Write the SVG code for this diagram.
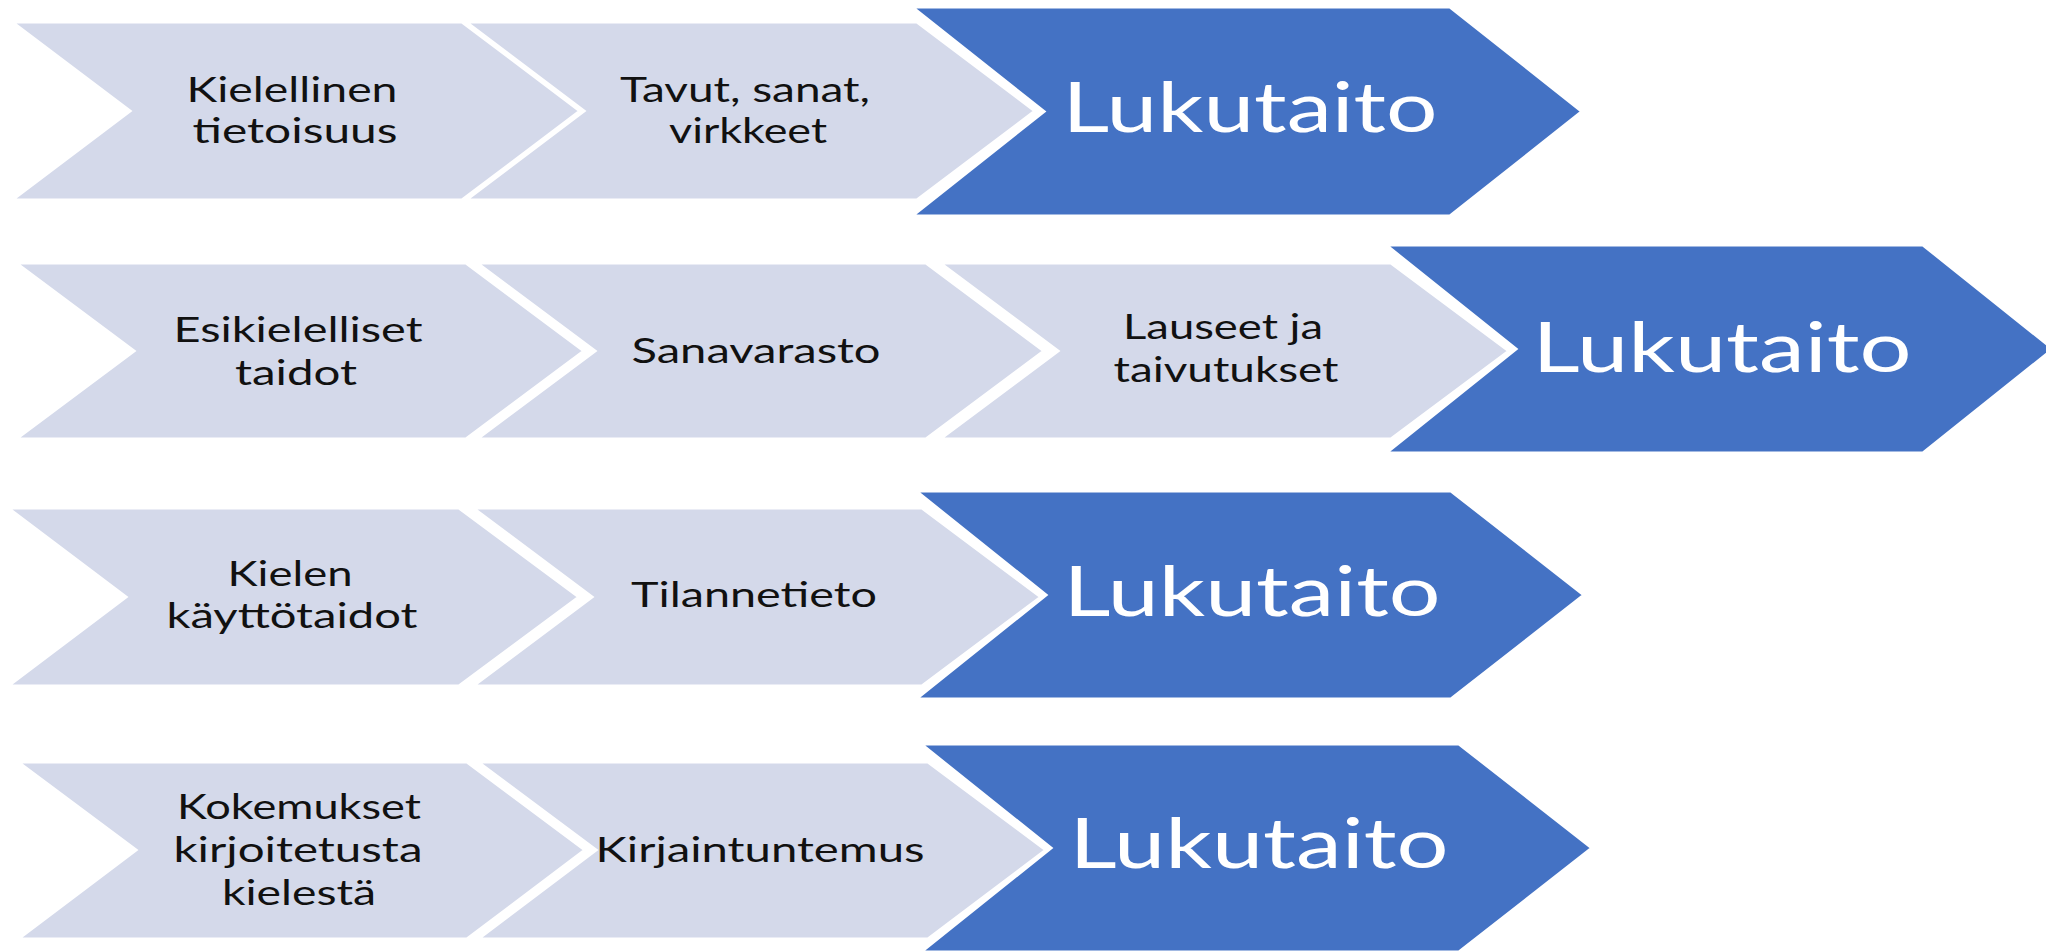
<svg xmlns="http://www.w3.org/2000/svg" width="2046" height="951" viewBox="0 0 2046 951">
<style>
.lt{fill:#D4D9EA;stroke:#FFFFFF;stroke-width:3;stroke-linejoin:miter}
.bl{fill:#4472C4;stroke:#FFFFFF;stroke-width:3;stroke-linejoin:miter}
.tx{font-family:Lato,"Open Sans","Liberation Sans",sans-serif;font-size:35px;fill:#111111;text-anchor:middle}
.tb{font-family:Lato,"Open Sans","Liberation Sans",sans-serif;font-size:69px;fill:#FFFFFF;text-anchor:middle}
</style>
<rect width="2046" height="951" fill="#FFFFFF"/>
<g id="row1">
<g id="r1a"><polygon class="lt" points="12,22 462,22 580,111 462,200 12,200 130,111"/>
<text class="tx" x="292" y="102" textLength="211" lengthAdjust="spacingAndGlyphs">Kielellinen</text>
<text class="tx" x="295" y="143" textLength="205" lengthAdjust="spacingAndGlyphs">tietoisuus</text></g>
<g id="r1b"><polygon class="lt" points="466,22 917,22 1035,111 917,200 466,200 584,111"/>
<text class="tx" x="745" y="102" textLength="250" lengthAdjust="spacingAndGlyphs">Tavut, sanat,</text>
<text class="tx" x="748" y="143" textLength="158" lengthAdjust="spacingAndGlyphs">virkkeet</text></g>
<g id="r1c"><polygon class="bl" points="912,7 1450,7 1582,111.5 1450,216 912,216 1044,111.5"/>
<text class="tb" x="1250" y="132" textLength="375" lengthAdjust="spacingAndGlyphs">Lukutaito</text></g>
</g>
<g id="row2">
<g id="r2a"><polygon class="lt" points="16,263 466,263 584,351 466,439 16,439 134,351"/>
<text class="tx" x="298" y="342" textLength="249" lengthAdjust="spacingAndGlyphs">Esikielelliset</text>
<text class="tx" x="296" y="385" textLength="122" lengthAdjust="spacingAndGlyphs">taidot</text></g>
<g id="r2b"><polygon class="lt" points="477,263 926,263 1044,351 926,439 477,439 595,351"/>
<text class="tx" x="756" y="363" textLength="249" lengthAdjust="spacingAndGlyphs">Sanavarasto</text></g>
<g id="r2c"><polygon class="lt" points="940,263 1391,263 1509,351 1391,439 940,439 1058,351"/>
<text class="tx" x="1223" y="339" textLength="200" lengthAdjust="spacingAndGlyphs">Lauseet ja</text>
<text class="tx" x="1226" y="382" textLength="225" lengthAdjust="spacingAndGlyphs">taivutukset</text></g>
<g id="r2d"><polygon class="bl" points="1386,245 1923,245 2053,349 1923,453 1386,453 1516,349"/>
<text class="tb" x="1722" y="372" textLength="379" lengthAdjust="spacingAndGlyphs">Lukutaito</text></g>
</g>
<g id="row3">
<g id="r3a"><polygon class="lt" points="8,508 459,508 579,597 459,686 8,686 126,597"/>
<text class="tx" x="290" y="586" textLength="125" lengthAdjust="spacingAndGlyphs">Kielen</text>
<text class="tx" x="292" y="628" textLength="251" lengthAdjust="spacingAndGlyphs">käyttötaidot</text></g>
<g id="r3b"><polygon class="lt" points="473,508 922,508 1041,597 922,686 473,686 592,597"/>
<text class="tx" x="754" y="607" textLength="246" lengthAdjust="spacingAndGlyphs">Tilannetieto</text></g>
<g id="r3c"><polygon class="bl" points="916,491 1451,491 1584,595 1451,699 916,699 1046,595"/>
<text class="tb" x="1252" y="616" textLength="377" lengthAdjust="spacingAndGlyphs">Lukutaito</text></g>
</g>
<g id="row4">
<g id="r4a"><polygon class="lt" points="18,762 467,762 585,850 467,939 18,939 136,850"/>
<text class="tx" x="299" y="819" textLength="244" lengthAdjust="spacingAndGlyphs">Kokemukset</text>
<text class="tx" x="298" y="862" textLength="249" lengthAdjust="spacingAndGlyphs">kirjoitetusta</text>
<text class="tx" x="299" y="905" textLength="154" lengthAdjust="spacingAndGlyphs">kielestä</text></g>
<g id="r4b"><polygon class="lt" points="478,762 928,762 1046,850 928,939 478,939 596,850"/>
<text class="tx" x="760" y="862" textLength="329" lengthAdjust="spacingAndGlyphs">Kirjaintuntemus</text></g>
<g id="r4c"><polygon class="bl" points="921,744 1459,744 1592,848 1459,952 921,952 1051,848"/>
<text class="tb" x="1259" y="868" textLength="379" lengthAdjust="spacingAndGlyphs">Lukutaito</text></g>
</g>
<g id="connectors"></g>
</svg>
